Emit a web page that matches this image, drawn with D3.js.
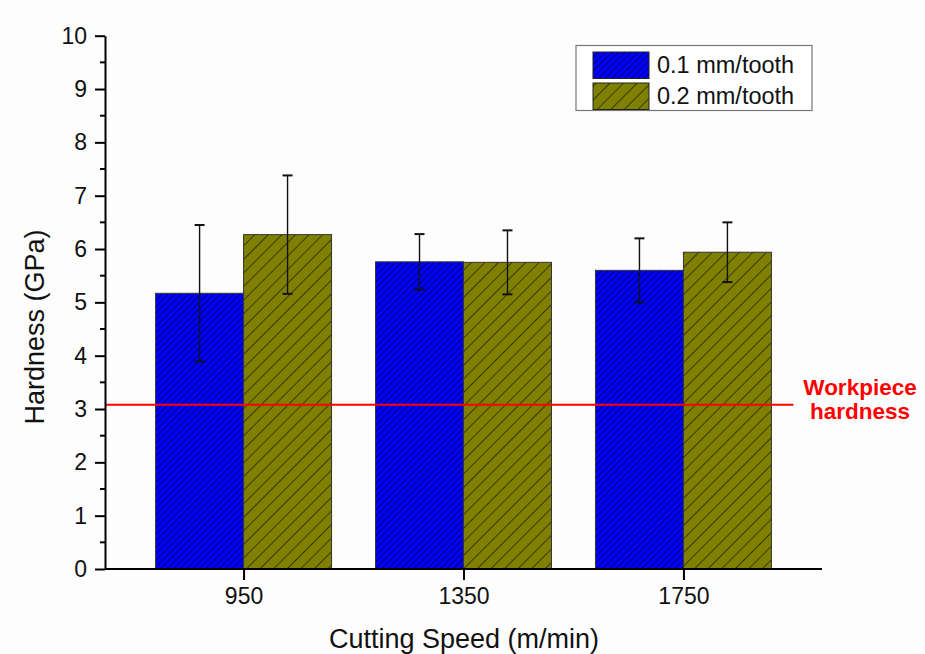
<!DOCTYPE html>
<html>
<head>
<meta charset="utf-8">
<script src="https://cdn.jsdelivr.net/npm/d3@7"></script>
<style>
  html, body { margin: 0; padding: 0; background: #fdfdfd; }
  svg { display: block; font-family: "Liberation Sans", Arial, sans-serif; }
</style>
</head>
<body>
<svg id="chart" width="925" height="654"></svg>
<script>
// Hardness vs cutting speed for two feed rates
const speeds = ["950", "1350", "1750"];
const hard01 = [5.17, 5.76, 5.60];   // 0.1 mm/tooth
const err01  = [1.28, 0.52, 0.60];
const hard02 = [6.27, 5.75, 5.94];   // 0.2 mm/tooth
const err02  = [1.11, 0.60, 0.56];
const seriesNames = ["0.1 mm/tooth", "0.2 mm/tooth"];
const yTicks = [0, 1, 2, 3, 4, 5, 6, 7, 8, 9, 10];
const workpieceHardness = 3.08;

const FONT = '"Liberation Sans", Arial, sans-serif';
const svg = d3.select("#chart");
const plotL = 105, plotR = 822, plotT = 35.7, plotB = 569;

const x = d3.scalePoint().domain(speeds).range([plotL, plotR]).padding(0.63);
const y = d3.scaleLinear().domain([0, 10]).range([plotB, plotT]);
const barW = x.step() * 0.4;

// hatch patterns ("/" direction)
const defs = svg.append("defs");
function hatch(id, fill, spacing) {
  const p = defs.append("pattern")
    .attr("id", id)
    .attr("patternUnits", "userSpaceOnUse")
    .attr("width", spacing).attr("height", spacing)
    .attr("patternTransform", "rotate(45)");
  p.append("rect").attr("width", spacing).attr("height", spacing).attr("fill", fill);
  p.append("line").attr("x1", 0).attr("y1", 0).attr("x2", 0).attr("y2", spacing)
    .attr("stroke", "#000").attr("stroke-width", 1.1);
}
hatch("hatchBlue", "#0000ff", 4.6);
hatch("hatchOlive", "#808000", 9.6);

const series = [
  { name: seriesNames[0], vals: hard01, errs: err01, fill: "url(#hatchBlue)", dx: -1 },
  { name: seriesNames[1], vals: hard02, errs: err02, fill: "url(#hatchOlive)", dx: 0 }
];

// bars
series.forEach(s => {
  svg.append("g").selectAll("rect")
    .data(speeds)
    .join("rect")
    .attr("x", d => x(d) + s.dx * barW)
    .attr("y", (d, i) => y(s.vals[i]))
    .attr("width", barW)
    .attr("height", (d, i) => y(0) - y(s.vals[i]))
    .attr("fill", s.fill)
    .attr("stroke", "#333")
    .attr("stroke-width", 1);
});

// reference line for workpiece hardness
svg.append("line")
  .attr("x1", plotL).attr("x2", x(speeds[speeds.length - 1]) + x.step() * 0.5)
  .attr("y1", y(workpieceHardness)).attr("y2", y(workpieceHardness))
  .attr("stroke", "#ff0000").attr("stroke-width", 2);

// error bars
series.forEach(s => {
  const g = svg.append("g").attr("stroke", "#111").attr("stroke-width", 1.4);
  speeds.forEach((d, i) => {
    const cx = x(d) + s.dx * barW + barW / 2;
    const hi = y(s.vals[i] + s.errs[i]), lo = y(s.vals[i] - s.errs[i]);
    g.append("line").attr("x1", cx).attr("x2", cx).attr("y1", hi).attr("y2", lo);
    g.append("line").attr("x1", cx - 5).attr("x2", cx + 5).attr("y1", hi).attr("y2", hi).attr("stroke-width", 2);
    g.append("line").attr("x1", cx - 5).attr("x2", cx + 5).attr("y1", lo).attr("y2", lo).attr("stroke-width", 2);
  });
});

// y axis
const yAxis = svg.append("g").attr("transform", `translate(${plotL},0)`)
  .call(d3.axisLeft(y).tickValues(yTicks).tickSize(10).tickPadding(8).tickSizeOuter(0));
yAxis.attr("font-family", FONT).attr("font-size", 23);
yAxis.select(".domain").attr("stroke", "#000").attr("stroke-width", 2);
yAxis.selectAll(".tick line").attr("stroke-width", 2);
yAxis.selectAll("text").attr("fill", "#111");
// minor ticks
svg.append("g").selectAll("line")
  .data(yTicks.slice(0, -1).map(v => v + 0.5))
  .join("line")
  .attr("x1", plotL - 5).attr("x2", plotL)
  .attr("y1", d => y(d)).attr("y2", d => y(d))
  .attr("stroke", "#000").attr("stroke-width", 2);

// x axis
const xAxis = svg.append("g").attr("transform", `translate(0,${plotB})`)
  .call(d3.axisBottom(x).tickSize(11).tickPadding(8).tickSizeOuter(0));
xAxis.attr("font-family", FONT).attr("font-size", 23);
xAxis.select(".domain").attr("stroke", "#000").attr("stroke-width", 2)
  .attr("d", `M${plotL},0H${plotR}`);
xAxis.selectAll(".tick line").attr("stroke-width", 2);
xAxis.selectAll("text").attr("fill", "#111");

// axis titles
svg.append("text")
  .attr("x", 464).attr("y", 648)
  .attr("text-anchor", "middle").attr("font-size", 27).attr("fill", "#111")
  .text("Cutting Speed (m/min)");
svg.append("text")
  .attr("transform", `translate(44,327) rotate(-90)`)
  .attr("text-anchor", "middle").attr("font-size", 27).attr("fill", "#111")
  .text("Hardness (GPa)");

// workpiece label
const lab = svg.append("text")
  .attr("text-anchor", "middle").attr("font-size", 22.5).attr("font-weight", "bold")
  .attr("fill", "#ff0000");
lab.append("tspan").attr("x", 860).attr("y", 395).text("Workpiece");
lab.append("tspan").attr("x", 860).attr("y", 419).text("hardness");

// legend
const lg = svg.append("g");
lg.append("rect").attr("x", 576).attr("y", 45.5).attr("width", 236).attr("height", 65)
  .attr("fill", "#fff").attr("stroke", "#777").attr("stroke-width", 1.2);
series.forEach((s, i) => {
  const yy = 52 + i * 31;
  lg.append("rect").attr("x", 593).attr("y", yy).attr("width", 56).attr("height", 26.5)
    .attr("fill", s.fill).attr("stroke", "#222").attr("stroke-width", 1);
  lg.append("text").attr("x", 657).attr("y", yy + 21).attr("font-size", 23.5).attr("fill", "#111")
    .text(s.name);
});
</script>
</body>
</html>
